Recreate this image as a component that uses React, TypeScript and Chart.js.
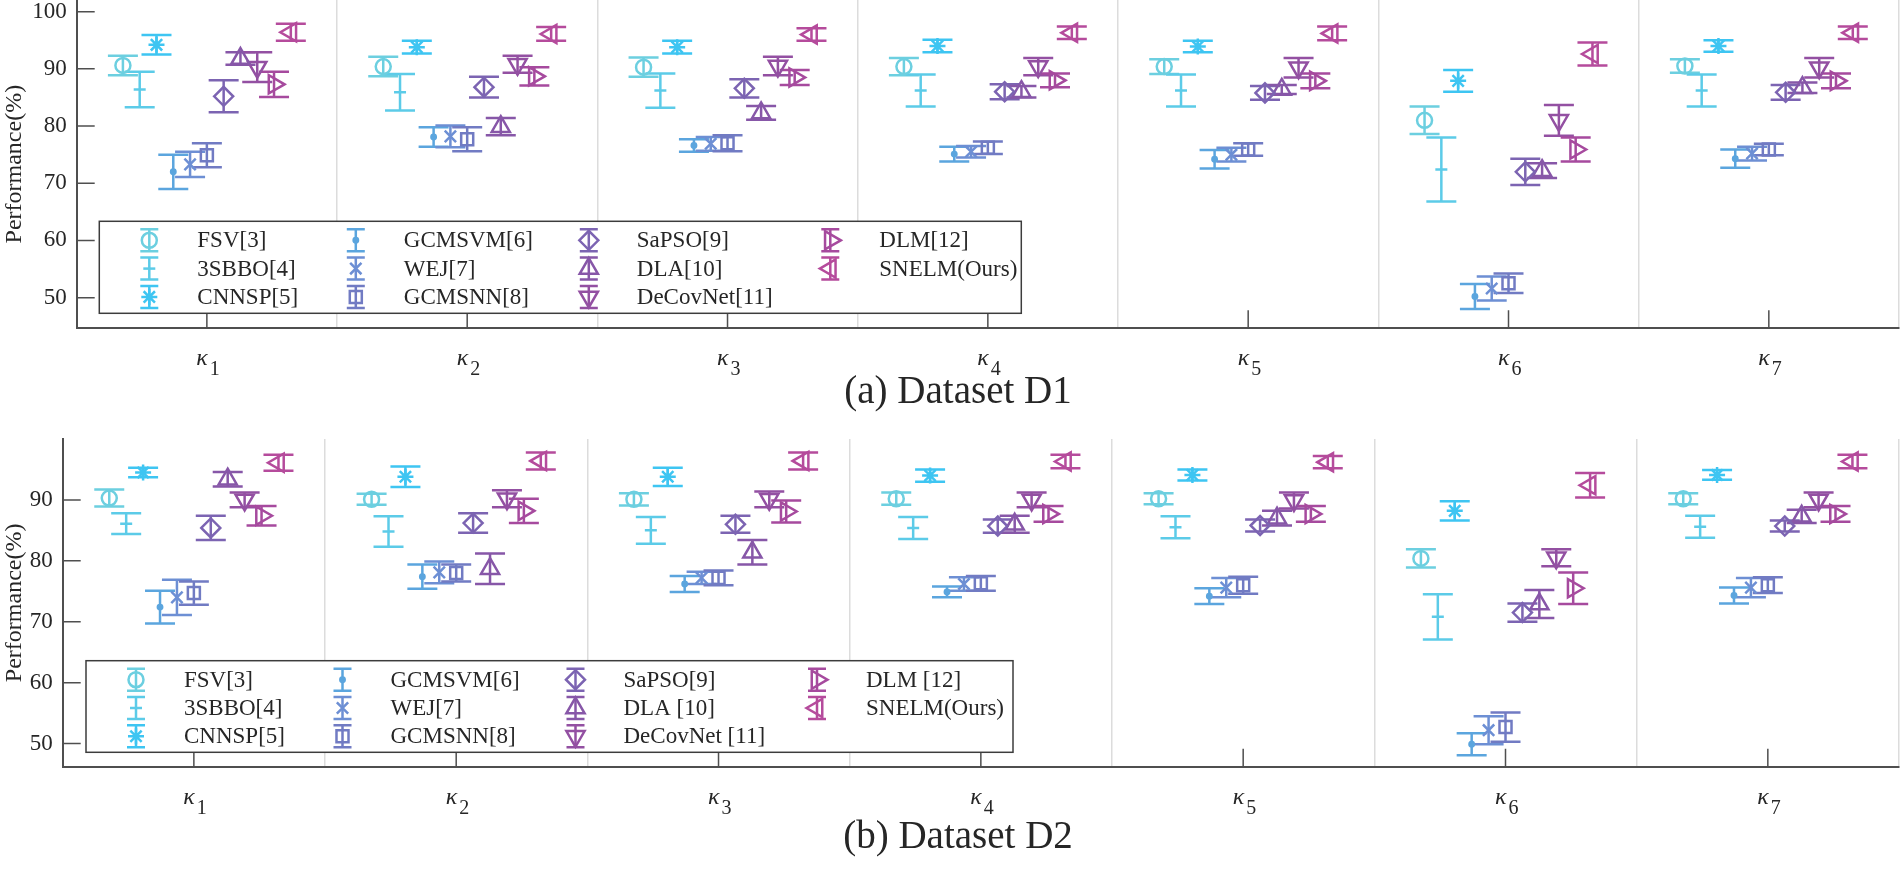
import React, { useEffect, useRef } from 'react';
import { Chart, registerables } from 'chart.js';
import { drawPoint } from 'chart.js/helpers';

Chart.register(...registerables);

// ---------------- data ----------------
const GROUP_SYMBOL = 'κ';
const GROUP_SUBSCRIPTS = ['1', '2', '3', '4', '5', '6', '7'];
const Y_AXIS_TITLE = 'Performance(%)';
const Y_TICKS_D1 = [50, 60, 70, 80, 90, 100];
const Y_TICKS_D2 = [50, 60, 70, 80, 90];
const CAPTION_D1 = '(a) Dataset D1';
const CAPTION_D2 = '(b) Dataset D2';

const METHODS_D1 = ['FSV[3]', '3SBBO[4]', 'CNNSP[5]', 'GCMSVM[6]', 'WEJ[7]', 'GCMSNN[8]', 'SaPSO[9]', 'DLA[10]', 'DeCovNet[11]', 'DLM[12]', 'SNELM(Ours)'];
const METHODS_D2 = ['FSV[3]', '3SBBO[4]', 'CNNSP[5]', 'GCMSVM[6]', 'WEJ[7]', 'GCMSNN[8]', 'SaPSO[9]', 'DLA [10]', 'DeCovNet [11]', 'DLM [12]', 'SNELM(Ours)'];

// Dataset D1 (mean, half error)
const D1_FSV = [90.6, 90.4, 90.3, 90.4, 90.4, 81.0, 90.5];
const D1_FSV_ERR = [1.7, 1.7, 1.7, 1.5, 1.3, 2.4, 1.2];
const D1_3SBBO = [86.4, 85.9, 86.2, 86.2, 86.2, 72.4, 86.2];
const D1_3SBBO_ERR = [3.1, 3.2, 3.0, 2.8, 2.8, 5.6, 2.8];
const D1_CNNSP = [94.2, 93.8, 93.8, 94.0, 93.9, 87.9, 94.0];
const D1_CNNSP_ERR = [1.7, 1.1, 1.1, 1.1, 1.0, 1.9, 1.0];
const D1_GCMSVM = [72.0, 78.1, 76.6, 75.1, 74.2, 50.2, 74.3];
const D1_GCMSVM_ERR = [3.0, 1.7, 1.1, 1.3, 1.6, 2.2, 1.6];
const D1_WEJ = [73.3, 78.2, 76.9, 75.5, 75.0, 51.6, 75.2];
const D1_WEJ_ERR = [2.2, 1.9, 1.2, 1.0, 1.2, 2.1, 1.2];
const D1_GCMSNN = [74.9, 77.7, 77.0, 76.2, 75.9, 52.5, 75.9];
const D1_GCMSNN_ERR = [2.1, 2.1, 1.4, 1.1, 1.1, 1.7, 1.0];
const D1_SAPSO = [85.2, 86.8, 86.6, 86.0, 85.8, 72.0, 85.9];
const D1_SAPSO_ERR = [2.8, 1.8, 1.6, 1.3, 1.2, 2.3, 1.3];
const D1_DLA = [91.8, 79.9, 82.3, 86.0, 86.4, 72.2, 86.7];
const D1_DLA_ERR = [1.1, 1.5, 1.2, 1.0, 0.8, 1.3, 0.9];
const D1_DECOVNET = [90.3, 90.8, 90.5, 90.4, 90.2, 81.0, 90.2];
const D1_DECOVNET_ERR = [2.6, 1.5, 1.6, 1.5, 1.7, 2.7, 1.7];
const D1_DLM = [87.3, 88.7, 88.5, 88.0, 87.9, 75.9, 87.9];
const D1_DLM_ERR = [2.2, 1.6, 1.3, 1.2, 1.3, 2.1, 1.3];
const D1_SNELM = [96.4, 96.1, 96.0, 96.3, 96.2, 92.6, 96.3];
const D1_SNELM_ERR = [1.5, 1.2, 1.1, 1.1, 1.2, 2.0, 1.1];

// Dataset D2 (mean, half error)
const D2_FSV = [90.3, 90.1, 90.1, 90.2, 90.2, 80.4, 90.2];
const D2_FSV_ERR = [1.4, 0.9, 1.0, 1.0, 0.9, 1.5, 0.9];
const D2_3SBBO = [86.1, 84.8, 85.0, 85.4, 85.5, 70.8, 85.6];
const D2_3SBBO_ERR = [1.7, 2.5, 2.2, 1.8, 1.8, 3.7, 1.8];
const D2_CNNSP = [94.5, 93.8, 93.8, 94.0, 94.1, 88.2, 94.1];
const D2_CNNSP_ERR = [0.8, 1.7, 1.5, 1.0, 0.9, 1.6, 0.8];
const D2_GCMSVM = [72.4, 77.4, 76.2, 74.9, 74.2, 49.9, 74.3];
const D2_GCMSVM_ERR = [2.7, 2.0, 1.3, 0.9, 1.3, 1.8, 1.3];
const D2_WEJ = [74.0, 78.1, 77.2, 76.2, 75.6, 52.2, 75.6];
const D2_WEJ_ERR = [2.9, 1.8, 1.0, 1.1, 1.6, 2.3, 1.6];
const D2_GCMSNN = [74.7, 78.0, 77.2, 76.3, 76.0, 52.7, 76.0];
const D2_GCMSNN_ERR = [1.9, 1.4, 1.2, 1.2, 1.4, 2.4, 1.3];
const D2_SAPSO = [85.4, 86.2, 86.0, 85.7, 85.8, 71.5, 85.7];
const D2_SAPSO_ERR = [2.0, 1.6, 1.4, 1.1, 1.0, 1.5, 0.9];
const D2_DLA = [93.4, 78.7, 81.4, 86.0, 87.0, 72.9, 87.3];
const D2_DLA_ERR = [1.2, 2.5, 2.0, 1.4, 1.2, 2.3, 1.1];
const D2_DECOVNET = [90.0, 90.2, 90.1, 90.0, 89.9, 80.5, 90.0];
const D2_DECOVNET_ERR = [1.2, 1.4, 1.3, 1.2, 1.3, 1.4, 1.2];
const D2_DLM = [87.4, 88.2, 88.1, 87.7, 87.7, 75.5, 87.7];
const D2_DLM_ERR = [1.6, 2.0, 1.8, 1.3, 1.3, 2.6, 1.3];
const D2_SNELM = [96.1, 96.4, 96.4, 96.3, 96.2, 92.4, 96.3];
const D2_SNELM_ERR = [1.3, 1.4, 1.4, 1.1, 1.0, 2.0, 1.1];

const D1_MEANS = [D1_FSV, D1_3SBBO, D1_CNNSP, D1_GCMSVM, D1_WEJ, D1_GCMSNN, D1_SAPSO, D1_DLA, D1_DECOVNET, D1_DLM, D1_SNELM];
const D1_ERRS = [D1_FSV_ERR, D1_3SBBO_ERR, D1_CNNSP_ERR, D1_GCMSVM_ERR, D1_WEJ_ERR, D1_GCMSNN_ERR, D1_SAPSO_ERR, D1_DLA_ERR, D1_DECOVNET_ERR, D1_DLM_ERR, D1_SNELM_ERR];
const D2_MEANS = [D2_FSV, D2_3SBBO, D2_CNNSP, D2_GCMSVM, D2_WEJ, D2_GCMSNN, D2_SAPSO, D2_DLA, D2_DECOVNET, D2_DLM, D2_SNELM];
const D2_ERRS = [D2_FSV_ERR, D2_3SBBO_ERR, D2_CNNSP_ERR, D2_GCMSVM_ERR, D2_WEJ_ERR, D2_GCMSNN_ERR, D2_SAPSO_ERR, D2_DLA_ERR, D2_DECOVNET_ERR, D2_DLM_ERR, D2_SNELM_ERR];

// ---------------- styles ----------------
const FONT = "'Liberation Serif', 'Times New Roman', Times, serif";
const TEXT_COLOR = '#262626';
const AXIS_COLOR = '#4f4f4f';
const COLORS = ['#6ccfe0', '#5ccbe8', '#3ec5f2', '#5ba5de', '#6d8fd4', '#717bc3', '#7c64b2', '#8757a8', '#9350a2', '#a64a9e', '#b54b9c'];
const MARKERS = [
  { style: 'circle', radius: 7.5, rotation: 0, filled: false },
  { style: 'line', radius: 6, rotation: 0, filled: false },
  { style: 'star', radius: 8, rotation: 0, filled: false },
  { style: 'circle', radius: 2.2, rotation: 0, filled: true },
  { style: 'crossRot', radius: 8, rotation: 0, filled: false },
  { style: 'rect', radius: 8.5, rotation: 0, filled: false },
  { style: 'rectRot', radius: 9.5, rotation: 0, filled: false },
  { style: 'triangle', radius: 10.5, rotation: 0, filled: false },
  { style: 'triangle', radius: 10.5, rotation: 180, filled: false },
  { style: 'triangle', radius: 10.5, rotation: 90, filled: false },
  { style: 'triangle', radius: 10.5, rotation: 270, filled: false },
];
const DODGE = 0.0645;
const LINE_W = 2.5;
const CAP_HALF = 15;
const TICK_LEN = 18;
const CAPTION_X = 958;

function buildDatasets(methods: string[], means: number[][], errs: number[][]) {
  const center = (methods.length - 1) / 2;
  return methods.map((label, i) => ({
    label,
    data: means[i].map((v, g) => ({ x: g + 1 + (i - center) * DODGE, y: v })),
    errors: errs[i],
    pointStyle: MARKERS[i].style,
    pointRadius: MARKERS[i].radius,
    pointRotation: MARKERS[i].rotation,
    pointBorderWidth: LINE_W,
    pointBorderColor: COLORS[i],
    pointBackgroundColor: MARKERS[i].filled ? COLORS[i] : 'rgba(0,0,0,0)',
    borderColor: COLORS[i],
    backgroundColor: MARKERS[i].filled ? COLORS[i] : 'rgba(0,0,0,0)',
    showLine: false,
  }));
}

function line(ctx: CanvasRenderingContext2D, x1: number, y1: number, x2: number, y2: number) {
  ctx.moveTo(x1, y1);
  ctx.lineTo(x2, y2);
}

const decorPlugin = {
  id: 'decor',
  beforeDatasetsDraw(chart: any) {
    const { ctx } = chart;
    const ys = chart.scales.y;
    ctx.save();
    ctx.lineWidth = LINE_W;
    chart.data.datasets.forEach((ds: any, i: number) => {
      const meta = chart.getDatasetMeta(i);
      ctx.strokeStyle = COLORS[i];
      ctx.beginPath();
      meta.data.forEach((pt: any, j: number) => {
        const v = ds.data[j].y;
        const e = ds.errors[j];
        const x = pt.x;
        const yt = ys.getPixelForValue(v + e);
        const yb = ys.getPixelForValue(v - e);
        line(ctx, x, yt, x, yb);
        line(ctx, x - CAP_HALF, yt, x + CAP_HALF, yt);
        line(ctx, x - CAP_HALF, yb, x + CAP_HALF, yb);
      });
      ctx.stroke();
    });
    ctx.restore();
  },
  afterDraw(chart: any, _args: any, opts: any) {
    const { ctx, chartArea: area } = chart;
    const xs = chart.scales.x;
    const ys = chart.scales.y;
    ctx.save();
    // inward tick marks
    ctx.strokeStyle = AXIS_COLOR;
    ctx.lineWidth = 1.5;
    ctx.beginPath();
    ys.ticks.forEach((t: any) => {
      const py = ys.getPixelForValue(t.value);
      line(ctx, area.left, py, area.left + TICK_LEN, py);
    });
    GROUP_SUBSCRIPTS.forEach((_s, g) => {
      const px = xs.getPixelForValue(g + 1);
      line(ctx, px, area.bottom, px, area.bottom - TICK_LEN);
    });
    ctx.stroke();

    // group labels (kappa with subscript)
    ctx.fillStyle = TEXT_COLOR;
    GROUP_SUBSCRIPTS.forEach((s, g) => {
      const px = xs.getPixelForValue(g + 1);
      ctx.font = `italic 24px ${FONT}`;
      ctx.textAlign = 'right';
      ctx.textBaseline = 'alphabetic';
      ctx.fillText(GROUP_SYMBOL, px + 1, area.bottom + 37);
      ctx.font = `20px ${FONT}`;
      ctx.textAlign = 'left';
      ctx.fillText(s, px + 3, area.bottom + 47);
    });

    // legend
    const L = opts.legend;
    const bx = area.left + L.dx;
    const by = area.bottom - L.gap - L.h;
    ctx.fillStyle = '#ffffff';
    ctx.fillRect(bx, by, L.w, L.h);
    ctx.strokeStyle = '#3c3c3c';
    ctx.lineWidth = 1.5;
    ctx.strokeRect(bx, by, L.w, L.h);
    chart.data.datasets.forEach((ds: any, i: number) => {
      const col = Math.floor(i / 3);
      const row = i % 3;
      const mx = bx + L.markX[col];
      const my = by + L.rowY[row];
      ctx.strokeStyle = COLORS[i];
      ctx.lineWidth = LINE_W;
      ctx.beginPath();
      line(ctx, mx, my - 11, mx, my + 11);
      line(ctx, mx - 9, my - 11, mx + 9, my - 11);
      line(ctx, mx - 9, my + 11, mx + 9, my + 11);
      ctx.stroke();
      ctx.fillStyle = MARKERS[i].filled ? COLORS[i] : 'rgba(0,0,0,0)';
      drawPoint(ctx, { pointStyle: MARKERS[i].style, rotation: MARKERS[i].rotation, radius: MARKERS[i].radius, borderWidth: LINE_W } as any, mx, my);
      ctx.fillStyle = TEXT_COLOR;
      ctx.font = `23px ${FONT}`;
      ctx.textAlign = 'left';
      ctx.textBaseline = 'middle';
      ctx.fillText(ds.label, bx + L.textX[col], my + 1);
    });

    // caption
    ctx.fillStyle = TEXT_COLOR;
    ctx.font = `39px ${FONT}`;
    ctx.textAlign = 'center';
    ctx.textBaseline = 'middle';
    ctx.fillText(opts.caption, CAPTION_X, area.bottom + opts.captionOffset);
    ctx.restore();
  },
};

type PanelCfg = {
  top: number;
  height: number;
  yMin: number;
  yMax: number;
  yTicks: number[];
  yWidth: number;
  xHeight: number;
  padTop: number;
  padRight: number;
  methods: string[];
  means: number[][];
  errs: number[][];
  caption: string;
  captionOffset: number;
  legend: any;
};

function Panel({ cfg }: { cfg: PanelCfg }) {
  const ref = useRef<HTMLCanvasElement>(null);
  useEffect(() => {
    let chart: Chart | null = null;
    let cancelled = false;
    const boundaries = GROUP_SUBSCRIPTS.map((_s, g) => g + 1.5);
    const make = () => {
      if (cancelled || !ref.current) return;
      chart = new Chart(ref.current as HTMLCanvasElement, {
        type: 'scatter',
        data: { datasets: buildDatasets(cfg.methods, cfg.means, cfg.errs) as any },
        options: {
          animation: false,
          responsive: false,
          devicePixelRatio: 1,
          events: [],
          layout: { autoPadding: false, padding: { top: cfg.padTop, right: cfg.padRight, left: 0, bottom: 0 } },
          plugins: {
            legend: { display: false },
            tooltip: { enabled: false },
            decor: { legend: cfg.legend, caption: cfg.caption, captionOffset: cfg.captionOffset },
          } as any,
          scales: {
            x: {
              type: 'linear',
              min: 0.5,
              max: GROUP_SUBSCRIPTS.length + 0.5,
              afterBuildTicks: (s: any) => {
                s.ticks = boundaries.map((v) => ({ value: v }));
              },
              afterFit: (s: any) => {
                s.height = cfg.xHeight;
                s.paddingLeft = 0;
                s.paddingRight = 0;
              },
              ticks: { display: false },
              grid: { color: '#dcdcdc', lineWidth: 1.5, drawTicks: false, drawOnChartArea: true },
              border: { display: true, color: AXIS_COLOR, width: 2 },
            },
            y: {
              type: 'linear',
              min: cfg.yMin,
              max: cfg.yMax,
              afterBuildTicks: (s: any) => {
                s.ticks = cfg.yTicks.map((v) => ({ value: v }));
              },
              afterFit: (s: any) => {
                s.width = cfg.yWidth;
                s.paddingTop = 0;
                s.paddingBottom = 0;
              },
              ticks: { font: { family: FONT, size: 23 }, color: TEXT_COLOR, padding: 10 },
              grid: { display: false, drawTicks: false },
              border: { display: true, color: AXIS_COLOR, width: 2 },
              title: {
                display: true,
                text: Y_AXIS_TITLE,
                font: { family: FONT, size: 24 },
                color: TEXT_COLOR,
                padding: 0,
              },
            },
          } as any,
        },
        plugins: [decorPlugin as any],
      });
    };
    const fonts: any = (document as any).fonts;
    if (fonts && fonts.load) {
      Promise.all([
        fonts.load(`23px "Liberation Serif"`),
        fonts.load(`italic 24px "Liberation Serif"`),
      ]).then(make, make);
    } else {
      make();
    }
    return () => {
      cancelled = true;
      if (chart) chart.destroy();
    };
  }, []);
  return (
    <canvas
      ref={ref}
      width={1900}
      height={cfg.height}
      style={{ position: 'absolute', left: 0, top: cfg.top, width: 1900, height: cfg.height }}
    />
  );
}

const LEGEND_COLS_MARK = [50, 256.5, 489.5, 731];
const LEGEND_COLS_TEXT = [98, 304.5, 537.5, 780];
const LEGEND_ROWS = [19, 47.3, 75.6];

const PANEL_D1: PanelCfg = {
  top: 0,
  height: 430,
  yMin: 44.64,
  yMax: 102.04,
  yTicks: Y_TICKS_D1,
  yWidth: 76.7,
  xHeight: 101.7,
  padTop: 0,
  padRight: 1,
  methods: METHODS_D1,
  means: D1_MEANS,
  errs: D1_ERRS,
  caption: CAPTION_D1,
  captionOffset: 64,
  legend: { dx: 22.6, gap: 15, w: 922, h: 92, markX: LEGEND_COLS_MARK, textX: LEGEND_COLS_TEXT, rowY: LEGEND_ROWS },
};

const PANEL_D2: PanelCfg = {
  top: 430,
  height: 442,
  yMin: 46.2,
  yMax: 100,
  yTicks: Y_TICKS_D2,
  yWidth: 62.7,
  xHeight: 105.3,
  padTop: 9,
  padRight: 1,
  methods: METHODS_D2,
  means: D2_MEANS,
  errs: D2_ERRS,
  caption: CAPTION_D2,
  captionOffset: 71,
  legend: { dx: 23.3, gap: 14.4, w: 927, h: 91.6, markX: LEGEND_COLS_MARK, textX: LEGEND_COLS_TEXT, rowY: LEGEND_ROWS },
};

export default function App() {
  return (
    <div style={{ position: 'absolute', left: 0, top: 0, width: 1900, height: 872, background: '#ffffff' }}>
      <Panel cfg={PANEL_D1} />
      <Panel cfg={PANEL_D2} />
    </div>
  );
}
